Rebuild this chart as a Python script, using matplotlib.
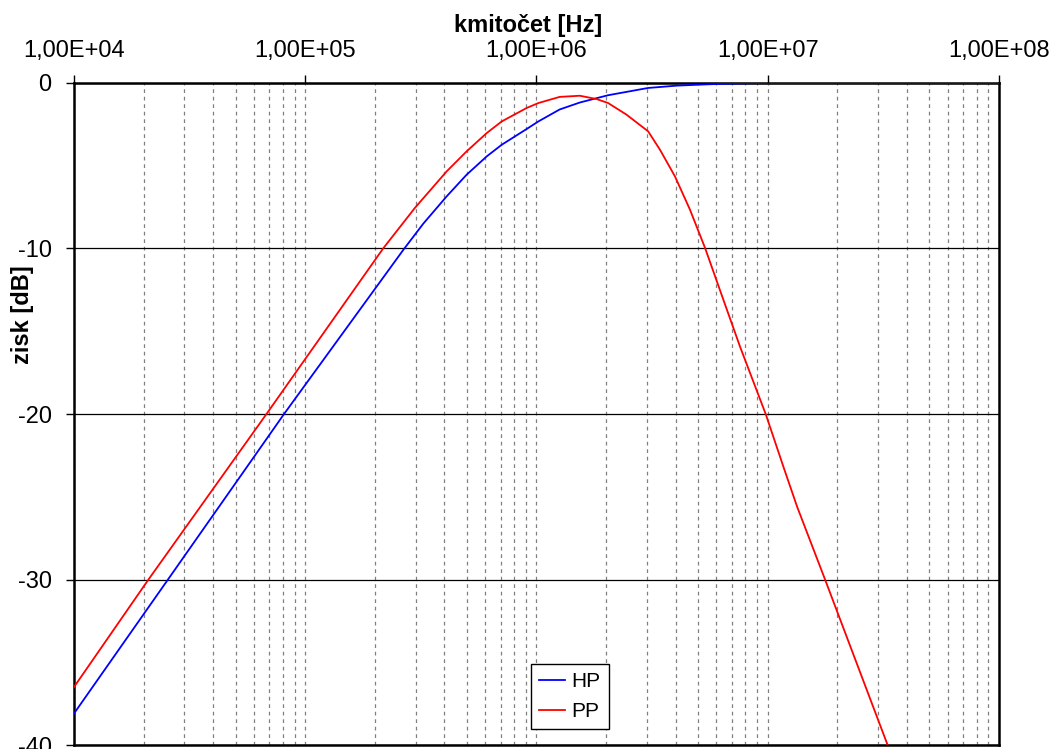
import matplotlib
matplotlib.use('Agg')
import numpy as np
from matplotlib import pyplot as plt
from matplotlib.ticker import FixedLocator, FuncFormatter, LogLocator, NullFormatter

plt.rcParams['font.family'] = ['Liberation Sans', 'DejaVu Sans']
plt.rcParams['axes.unicode_minus'] = False

# HP curve (blue)
hp_f = [1.0e4, 2.55e4, 8.1e4, 2.66e5, 3.24e5, 4.09e5, 4.99e5, 6.10e5, 7.08e5,
        9.07e5, 1.02e6, 1.26e6, 1.54e6, 1.76e6, 2.04e6, 3.04e6, 4.04e6,
        5.09e6, 6.03e6, 8.0e6, 1.0e7, 1.0e8]
hp_db = [-38.1, -30.0, -20.0, -10.07, -8.5, -6.85, -5.54, -4.43, -3.73,
         -2.78, -2.32, -1.6, -1.18, -0.97, -0.74, -0.30, -0.16,
         -0.10, -0.06, -0.02, 0.0, 0.0]

# PP curve (red)
pp_f = [1.0e4, 2.1e4, 6.8e4, 2.18e5, 2.98e5, 4.09e5, 4.99e5, 6.10e5, 7.08e5,
        9.07e5, 1.02e6, 1.26e6, 1.54e6, 1.82e6, 2.04e6, 2.45e6, 3.04e6,
        3.42e6, 3.97e6, 4.61e6, 5.36e6, 6.21e6, 7.6e6, 9.8e6, 1.17e7,
        1.34e7, 1.77e7, 3.3e7]
pp_db = [-36.5, -30.0, -20.0, -9.97, -7.55, -5.34, -4.13, -3.02, -2.32,
         -1.51, -1.21, -0.84, -0.77, -0.97, -1.21, -1.91, -2.92,
         -4.03, -5.64, -7.65, -9.97, -12.5, -15.95, -20.0, -23.2,
         -25.6, -30.0, -40.0]

x_ticks = [1e4, 1e5, 1e6, 1e7, 1e8]
y_ticks = [0, -10, -20, -30, -40]

fig = plt.figure(figsize=(10.58, 7.49), dpi=100)
ax = fig.add_axes([0.0699, 0.0053, 0.8743, 0.8839])

ax.plot(hp_f, hp_db, color='#0000ff', lw=1.3, label='HP', zorder=3)
ax.plot(pp_f, pp_db, color='#ff0000', lw=1.3, label='PP', zorder=3)

ax.set_xscale('log')
ax.set_xlim(1e4, 1e8)
ax.set_ylim(-40, 0)

ax.xaxis.tick_top()
ax.xaxis.set_label_position('top')
ax.xaxis.set_major_locator(FixedLocator(x_ticks))
ax.xaxis.set_major_formatter(FuncFormatter(lambda v, p: '1,00E+%02d' % round(np.log10(v))))
ax.xaxis.set_minor_locator(LogLocator(base=10, subs=np.arange(2, 10)))
ax.xaxis.set_minor_formatter(NullFormatter())
ax.set_yticks(y_ticks)

ax.tick_params(axis='x', which='major', direction='out', length=6, width=1, pad=9, labelsize=17)
ax.tick_params(axis='x', which='minor', length=0)
ax.tick_params(axis='y', direction='out', length=6, width=1, pad=10, labelsize=17)

ax.grid(True, axis='x', which='both', color='#808080', ls=(0, (3, 3)), lw=0.9)
ax.grid(True, axis='y', which='major', color='black', ls='-', lw=0.9)

for s in ax.spines.values():
    s.set_color('black')
    s.set_linewidth(1.8)

ax.set_xlabel('kmitočet [Hz]', fontsize=17, fontweight='bold')
ax.xaxis.set_label_coords(0.491, 1.077)
ax.set_ylabel('zisk [dB]', fontsize=17, fontweight='bold')
ax.yaxis.set_label_coords(-0.043, 0.65)

leg = ax.legend(loc='lower left', bbox_to_anchor=(0.494, 0.024), borderaxespad=0,
                fontsize=15, frameon=True, fancybox=False, edgecolor='black',
                framealpha=1, handlelength=1.25, handletextpad=0.3, borderpad=0.4,
                labelspacing=0.5)
leg.get_frame().set_linewidth(1.0)

fig.savefig('out.png', dpi=100)
